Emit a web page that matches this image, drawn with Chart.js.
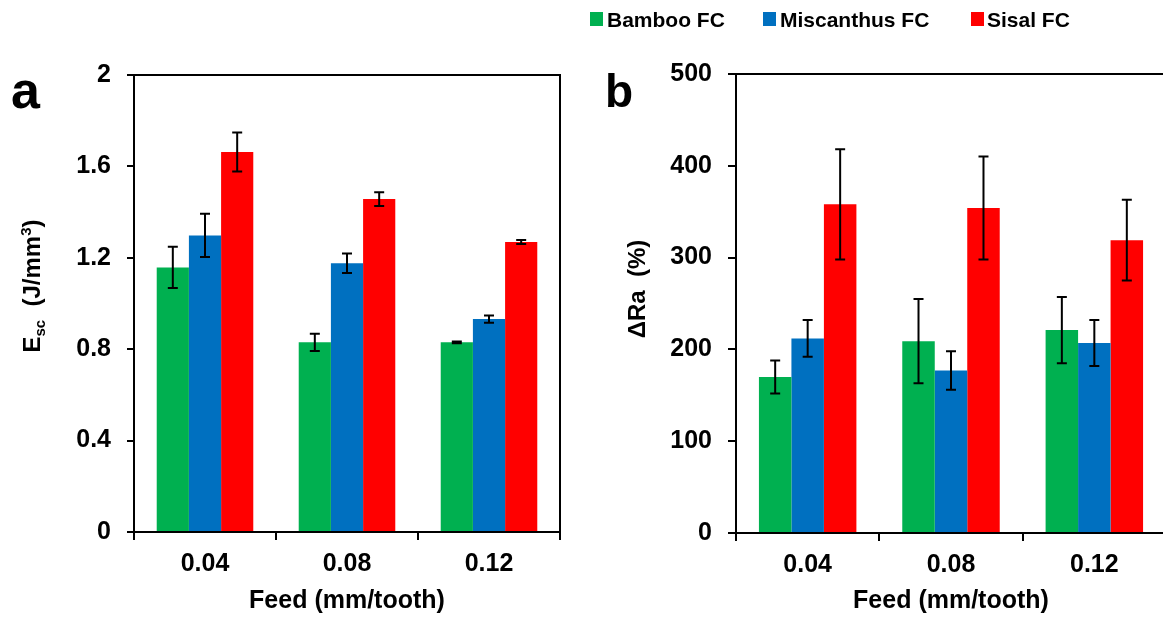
<!DOCTYPE html>
<html>
<head>
<meta charset="utf-8">
<script src="https://cdn.jsdelivr.net/npm/chart.js@4.4.1/dist/chart.umd.min.js"></script>
<style>
  html, body { margin: 0; padding: 0; background: #fff; overflow: hidden; }
  #wrap { position: relative; width: 1163px; height: 617px; overflow: hidden; font-family: "Liberation Sans", Arial, sans-serif; font-weight: bold; color: #000; }
  canvas { position: absolute; top: 0; }
  #chartA { left: 0; }
  #chartB { left: 580px; }
  .sq { position: absolute; top: 12px; width: 13px; height: 14px; }
  .lg { position: absolute; top: 9px; font-size: 21px; line-height: 21px; white-space: nowrap; }
  .panel { position: absolute; line-height: 1; }
  .ytitle { position: absolute; font-size: 24px; line-height: 24px; white-space: nowrap; transform: translate(-50%, -50%) rotate(-90deg); }
  .ytitle .sub { font-size: 15px; position: relative; top: 5px; }
  .ytitle .sup { font-size: 15px; position: relative; top: -9px; }
</style>
</head>
<body>
<div id="wrap">
  <canvas id="chartA" width="580" height="617"></canvas>
  <canvas id="chartB" width="590" height="617"></canvas>

  <div class="sq" style="left:590px;background:#00B050"></div>
  <div class="lg" style="left:607px">Bamboo FC</div>
  <div class="sq" style="left:763px;background:#0070C0"></div>
  <div class="lg" style="left:780px">Miscanthus FC</div>
  <div class="sq" style="left:971px;background:#FF0000"></div>
  <div class="lg" style="left:987px">Sisal FC</div>

  <div class="panel" style="left:11px;top:64px;font-size:52px">a</div>
  <div class="panel" style="left:605px;top:68px;font-size:46px">b</div>

  <div class="ytitle" style="left:33px;top:286px">E<span class="sub">sc</span>&nbsp;&nbsp;(J/mm<span class="sup">3</span>)</div>
  <div class="ytitle" style="left:637px;top:289px">&Delta;Ra&nbsp;&nbsp;(%)</div>
</div>

<script>
const feeds = ['0.04', '0.08', '0.12'];
const seriesNames = ['Bamboo FC', 'Miscanthus FC', 'Sisal FC'];
const seriesColors = ['#00B050', '#0070C0', '#FF0000'];

// panel a: specific cutting energy (J/mm3)
const escBamboo = [1.158, 0.830, 0.830];
const escBambooErr = [0.090, 0.038, 0.004];
const escMiscanthus = [1.298, 1.176, 0.932];
const escMiscanthusErr = [0.095, 0.043, 0.016];
const escSisal = [1.663, 1.457, 1.269];
const escSisalErr = [0.085, 0.030, 0.009];
const escTicks = [0, 0.4, 0.8, 1.2, 1.6, 2];
const escTickLabels = ['0', '0.4', '0.8', '1.2', '1.6', '2'];

// panel b: surface roughness increase (%)
const raBamboo = [170, 209, 221];
const raBambooErr = [18, 46, 36];
const raMiscanthus = [212, 177, 207];
const raMiscanthusErr = [20, 21, 25];
const raSisal = [358, 354, 319];
const raSisalErr = [60, 56, 44];
const raTicks = [0, 100, 200, 300, 400, 500];
const raTickLabels = ['0', '100', '200', '300', '400', '500'];

Chart.defaults.font.family = '"Liberation Sans", Arial, sans-serif';
Chart.defaults.font.weight = 'bold';
Chart.defaults.color = '#000';

// error bars drawn on top of each bar
const errorBars = {
    id: 'errorBars',
    afterDatasetsDraw(chart) {
        const ctx = chart.ctx;
        const yScale = chart.scales.y;
        ctx.save();
        ctx.strokeStyle = '#000';
        ctx.lineWidth = 2;
        chart.data.datasets.forEach((ds, i) => {
            const meta = chart.getDatasetMeta(i);
            meta.data.forEach((bar, j) => {
                const v = ds.data[j];
                const e = ds.errors[j];
                const yTop = yScale.getPixelForValue(v + e);
                const yBot = yScale.getPixelForValue(v - e);
                const x = bar.x;
                ctx.beginPath();
                ctx.moveTo(x, yTop); ctx.lineTo(x, yBot);
                ctx.moveTo(x - 5, yTop); ctx.lineTo(x + 5, yTop);
                ctx.moveTo(x - 5, yBot); ctx.lineTo(x + 5, yBot);
                ctx.stroke();
            });
        });
        ctx.restore();
    }
};

// top and right sides of the plot box
const frame = {
    id: 'frame',
    afterDraw(chart) {
        const { ctx, chartArea: a } = chart;
        ctx.save();
        ctx.strokeStyle = '#000';
        ctx.lineWidth = 2;
        ctx.beginPath();
        ctx.moveTo(a.left, a.top);
        ctx.lineTo(a.right, a.top);
        ctx.lineTo(a.right, a.bottom);
        ctx.stroke();
        ctx.restore();
    }
};

function makeDatasets(values, errors) {
    return values.map((vals, i) => ({
        label: seriesNames[i],
        data: vals,
        errors: errors[i],
        backgroundColor: seriesColors[i],
        borderWidth: 0,
        barPercentage: 1,
        categoryPercentage: 0.68
    }));
}

function makeChart(id, datasets, ticks, tickLabels, max, box) {
    return new Chart(document.getElementById(id), {
        type: 'bar',
        data: { labels: feeds, datasets: datasets },
        options: {
            responsive: false,
            animation: false,
            layout: { padding: { top: box.top, right: box.right, left: 0, bottom: 0 } },
            plugins: { legend: { display: false }, tooltip: { enabled: false } },
            scales: {
                x: {
                    afterFit: s => { s.height = box.xh; },
                    border: { color: '#000', width: 2 },
                    grid: { drawOnChartArea: false, color: '#000', lineWidth: 2, tickLength: 8 },
                    ticks: { font: { size: 25, weight: 'bold' }, padding: 9 },
                    title: { display: true, text: 'Feed (mm/tooth)', font: { size: 25, weight: 'bold' }, padding: { top: 0, bottom: 1 } }
                },
                y: {
                    min: 0,
                    max: max,
                    afterFit: s => { s.width = box.yw; },
                    afterBuildTicks: s => { s.ticks = ticks.map(v => ({ value: v })); },
                    border: { color: '#000', width: 2 },
                    grid: { drawOnChartArea: false, color: '#000', lineWidth: 2, tickLength: box.tl },
                    ticks: { font: { size: 25, weight: 'bold' }, padding: 16, callback: (v, i) => tickLabels[i] }
                }
            }
        },
        plugins: [errorBars, frame]
    });
}

makeChart('chartA',
    makeDatasets([escBamboo, escMiscanthus, escSisal], [escBambooErr, escMiscanthusErr, escSisalErr]),
    escTicks, escTickLabels, 2,
    { top: 75, right: 20, yw: 134, xh: 85, tl: 7 });

makeChart('chartB',
    makeDatasets([raBamboo, raMiscanthus, raSisal], [raBambooErr, raMiscanthusErr, raSisalErr]),
    raTicks, raTickLabels, 500,
    { top: 74, right: 4, yw: 156, xh: 84, tl: 8 });
</script>
</body>
</html>
